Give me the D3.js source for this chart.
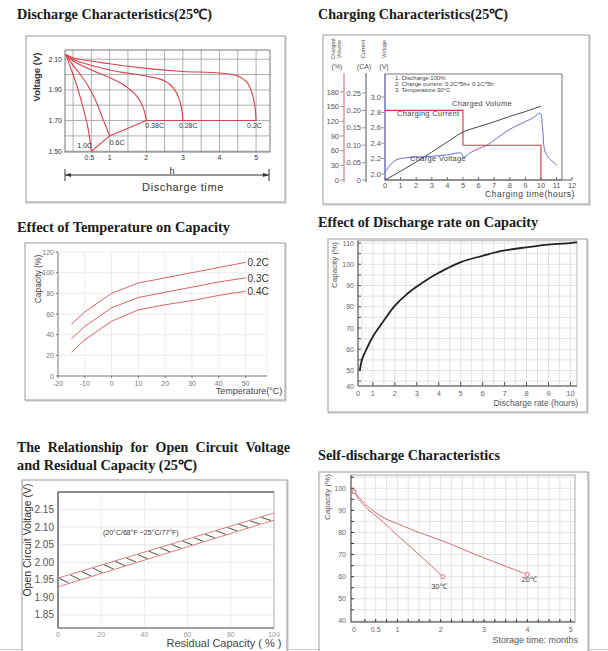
<!DOCTYPE html>
<html><head><meta charset="utf-8">
<script src="https://cdn.jsdelivr.net/npm/d3@7/dist/d3.min.js"></script>
<style>
body{margin:0;background:#fff;}
svg{display:block;}
text{font-family:"Liberation Sans",Arial,sans-serif;}
.title{font-family:"Liberation Serif","Times New Roman",serif;font-weight:bold;font-size:14px;fill:#1a1a1a;}
</style></head><body>
<svg id="c" width="608" height="651"></svg>
<script>
// ---------- DATA ----------
// Panel 1: discharge characteristics (hours, volts)
const dischargeLabels = ["1.0C","0.6C","0.38C","0.28C","0.2C"];
const discharge10C = [[-0.2,2.13],[0,2.0],[0.1,1.93],[0.2,1.85],[0.3,1.76],[0.4,1.66],[0.5,1.5]];
const discharge06C = [[-0.2,2.13],[0,2.06],[0.2,2.0],[0.4,1.93],[0.6,1.84],[0.8,1.72],[1,1.6]];
const discharge038C = [[-0.2,2.13],[0,2.09],[0.5,2.03],[1,1.98],[1.4,1.93],[1.7,1.87],[1.85,1.82],[1.95,1.76],[2,1.7]];
const discharge028C = [[-0.2,2.13],[0,2.1],[1,2.03],[2,1.99],[2.5,1.96],[2.75,1.91],[2.9,1.84],[2.97,1.77],[3,1.7]];
const discharge02C = [[-0.2,2.13],[0,2.11],[1,2.07],[2,2.04],[3,2.02],[4,2.01],[4.5,1.99],[4.75,1.95],[4.9,1.87],[4.97,1.79],[5,1.7]];
const dischargeCutoff = [[0.5,1.5],[1,1.6],[2,1.7],[5,1.7]];
const dischargeYTicks = [1.5,1.7,1.9,2.1];
const dischargeXTicks = [0.5,1,2,3,4,5];

// Panel 2: charging characteristics
const chargeHoursTicks = [0,1,2,3,4,5,6,7,8,9,10,11,12];
const chargeCurrent = [[0,0.2],[5,0.2],[5,0.1],[10,0.1],[10,0]];
const chargedVolume = [[0,0],[1,18],[2,37],[3,57],[4,78],[5,98],[6,109],[7,119],[8,130],[9,140],[10,151]];
const chargeVoltage = [[0,2.02],[0.2,2.08],[0.4,2.13],[0.7,2.18],[1,2.2],[2,2.22],[3,2.23],[4,2.25],[4.9,2.27],[5.05,2.22],[5.5,2.28],[6,2.33],[6.5,2.37],[7,2.44],[8,2.58],[9,2.68],[9.5,2.73],[9.95,2.79],[10.1,2.6],[10.25,2.3],[10.5,2.21],[11,2.12]];
const volTicks = [0,30,60,90,120,150,180];
const curTicks = [0,0.05,0.10,0.15,0.20,0.25];
const voltTicks = [2.0,2.2,2.4,2.6,2.8,3.0];
const chargeNotes = ["1. Discharge:100%","2. Charge current: 0.2C*5h+ 0.1C*5h","3. Temperature:30°C"];

// Panel 3: temperature vs capacity
const tempX = [-15,-10,0,10,20,30,40,50];
const tempCap02 = [50,62,80,90,95,100,105,110];
const tempCap03 = [36,48,66,76,81,86,91,95];
const tempCap04 = [23,35,53,64,69,73,78,82];
const tempSeriesNames = ["0.2C","0.3C","0.4C"];
const tempXTicks = [-20,-10,0,10,20,30,40,50];
const tempYTicks = [0,20,40,60,80,100,120];

// Panel 4: discharge rate vs capacity
const rateHours = [0.4,0.5,0.75,1,1.5,2,2.5,3,3.5,4,5,6,7,8,9,10,10.3];
const rateCap = [50,55,61,66,73.5,80.5,85.5,89.5,93,96,101,104,106.5,108,109.3,110,110.3];
const rateXTicks = [1,2,3,4,5,6,7,8,9,10];
const rateYTicks = [50,60,70,80,90,100,110];

// Panel 5: open circuit voltage vs residual capacity
const ocvCap = [0,100];
const ocvUpper = [1.955,2.14];
const ocvLower = [1.93,2.12];
const ocvYTicks = [1.85,1.90,1.95,2.00,2.05,2.10,2.15];
const ocvXTicks = [0,20,40,60,80,100];

// Panel 6: self-discharge
const self30 = [[0,98.5],[0.15,94],[0.35,90],[0.6,86],[0.93,80],[1.5,70],[2.05,60]];
const self20 = [[0,98.5],[0.25,93],[0.5,89],[0.75,86],[1.06,83.5],[1.5,80],[2,76.5],[3,68.5],[4,61]];
const selfXTicks = [0,0.5,1,2,3,4,5];
const selfYTicks = [40,50,60,70,80,90,100];

// ---------- DRAW ----------
const svg = d3.select("#c");
const RED = "#d9434c";

function frame(x0,y0,x1,y1){
  svg.append("rect").attr("x",x0+1).attr("y",y0+1).attr("width",x1-x0).attr("height",y1-y0)
    .attr("fill","none").attr("stroke","#d8d8d8").attr("stroke-width",1.5);
  svg.append("rect").attr("x",x0).attr("y",y0).attr("width",x1-x0).attr("height",y1-y0)
    .attr("fill","#fff").attr("stroke","#9a9a9a").attr("stroke-width",1);
}
function title(txt,x,y,w){
  svg.append("text").attr("class","title").attr("x",x).attr("y",y)
    .attr("textLength",w).attr("lengthAdjust","spacingAndGlyphs").text(txt);
}
function label(g,txt,x,y,opt){
  opt=opt||{};
  const t=g.append("text").attr("x",x).attr("y",y).text(txt)
    .attr("font-size",opt.size||8).attr("fill",opt.fill||"#444")
    .attr("text-anchor",opt.anchor||"start");
  if(opt.rotate) t.attr("transform",`rotate(-90,${x},${y})`);
  if(opt.ls) t.attr("letter-spacing",opt.ls);
  if(opt.family) t.attr("font-family",opt.family);
  if(opt.weight) t.attr("font-weight",opt.weight);
  return t;
}

// bottom page line
svg.append("line").attr("x1",0).attr("x2",608).attr("y1",649.5).attr("y2",649.5).attr("stroke","#c8c8c8");

// ===== Panel 1 =====
title("Discharge Characteristics(25℃)",17,19,195);
frame(26,36,285,202);
{
  const g=svg.append("g");
  const x=d3.scaleLinear().domain([-0.22,5.38]).range([65,270]);
  const y=d3.scaleLinear().domain([1.495,2.16]).range([152,50]);
  g.selectAll(".vg").data(d3.range(0,5.01,0.5)).join("line")
    .attr("x1",d=>x(d)).attr("x2",d=>x(d)).attr("y1",50).attr("y2",152).attr("stroke","#9c9c9c").attr("stroke-width",0.8);
  g.selectAll(".hg").data(d3.range(1.5,2.11,0.1)).join("line")
    .attr("x1",65).attr("x2",270).attr("y1",d=>y(d)).attr("y2",d=>y(d)).attr("stroke","#9c9c9c").attr("stroke-width",0.8);
  g.append("rect").attr("x",65).attr("y",50).attr("width",205).attr("height",102).attr("fill","none").attr("stroke","#777");
  const lin=d3.line().x(d=>x(d[0])).y(d=>y(d[1]));
  [discharge10C,discharge06C,discharge038C,discharge028C,discharge02C].forEach(s=>{
    g.append("path").attr("d",d3.line().x(d=>x(d[0])).y(d=>y(d[1])).curve(d3.curveCatmullRom)(s))
      .attr("fill","none").attr("stroke",RED).attr("stroke-width",1.1);
  });
  g.append("path").attr("d",lin(dischargeCutoff)).attr("fill","none").attr("stroke",RED).attr("stroke-width",1.1);
  dischargeYTicks.forEach(v=>label(g,v.toFixed(2),62,y(v)+2.5,{size:7,anchor:"end",fill:"#333"}));
  dischargeXTicks.forEach(v=>label(g,String(v),x(v)-(v===0.5?2:0),160,{size:7,anchor:"middle",fill:"#333"}));
  const ends=[discharge10C,discharge06C,discharge038C,discharge028C,discharge02C].map(s=>s[s.length-1]);
  const offs=[[-14,-3],[0,9],[-1,7.5],[-4,7.5],[-9,7.5]];
  ends.forEach((e,i)=>label(g,dischargeLabels[i],x(e[0])+offs[i][0],y(e[1])+offs[i][1],{size:7,fill:"#333"}));
  // arrow
  const ay=175;
  g.append("line").attr("x1",65).attr("x2",269).attr("y1",ay).attr("y2",ay).attr("stroke","#333");
  g.append("line").attr("x1",65).attr("x2",65).attr("y1",ay-6).attr("y2",ay+6).attr("stroke","#333");
  g.append("line").attr("x1",269).attr("x2",269).attr("y1",ay-6).attr("y2",ay+6).attr("stroke","#333");
  g.append("path").attr("d",`M65,${ay}l6,-2v4z M269,${ay}l-6,-2v4z`).attr("fill","#333");
  label(g,"h",172,ay-1,{size:9,anchor:"middle",fill:"#333"});
  label(g,"Discharge time",183,191,{size:11,anchor:"middle",fill:"#333",ls:0.6});
  label(g,"Voltage (V)",40,77,{size:9.5,anchor:"middle",fill:"#333",rotate:true,weight:"bold"});
}

// ===== Panel 2 =====
title("Charging Characteristics(25℃)",318,19,190);
frame(323,35,589,204);
{
  const g=svg.append("g");
  const x=d3.scaleLinear().domain([0,11.35]).range([385,562]);
  const yVol=d3.scaleLinear().domain([0,180]).range([180,92]);
  const yCur=d3.scaleLinear().domain([0,0.25]).range([180,93]);
  const yV=d3.scaleLinear().domain([2.0,3.0]).range([174,97]);
  g.append("rect").attr("x",385).attr("y",74).attr("width",177).attr("height",106).attr("fill","none").attr("stroke","#777");
  g.append("line").attr("x1",385).attr("x2",x(12)).attr("y1",180).attr("y2",180).attr("stroke","#666");
  chargeHoursTicks.forEach(h=>{
    g.append("line").attr("x1",x(h)).attr("x2",x(h)).attr("y1",180).attr("y2",177).attr("stroke","#666");
    label(g,String(h),x(h),188,{size:7.5,anchor:"middle",fill:"#555"});
  });
  // axes
  g.append("line").attr("x1",344).attr("x2",344).attr("y1",73).attr("y2",182).attr("stroke","#d77f86").attr("stroke-width",1.2);
  g.append("line").attr("x1",366).attr("x2",366).attr("y1",73).attr("y2",182).attr("stroke","#555").attr("stroke-width",1);
  g.append("line").attr("x1",385).attr("x2",385).attr("y1",74).attr("y2",180).attr("stroke","#7b7be0").attr("stroke-width",1.2);
  volTicks.forEach(v=>{
    g.append("line").attr("x1",340).attr("x2",344).attr("y1",yVol(v)).attr("y2",yVol(v)).attr("stroke","#999");
    label(g,String(v),339,yVol(v)+2.5,{size:7.5,anchor:"end",fill:"#555"});
  });
  curTicks.forEach(v=>{
    g.append("line").attr("x1",362).attr("x2",366).attr("y1",yCur(v)).attr("y2",yCur(v)).attr("stroke","#999");
    label(g,v===0?"0":v.toFixed(2),361,yCur(v)+2.5,{size:7.5,anchor:"end",fill:"#555"});
  });
  voltTicks.forEach(v=>{
    g.append("line").attr("x1",381).attr("x2",385).attr("y1",yV(v)).attr("y2",yV(v)).attr("stroke","#999");
    label(g,v.toFixed(1),381,yV(v)+2.5,{size:7.5,anchor:"end",fill:"#555"});
  });
  label(g,"Charged",335,49,{size:5.5,anchor:"middle",fill:"#555",rotate:true});
  label(g,"Volume",341,49,{size:5.5,anchor:"middle",fill:"#555",rotate:true});
  label(g,"Current",365,49,{size:5.5,anchor:"middle",fill:"#555",rotate:true});
  label(g,"Voltage",386,49,{size:5.5,anchor:"middle",fill:"#555",rotate:true});
  label(g,"(%)",337,69,{size:7,anchor:"middle",fill:"#555"});
  label(g,"(CA)",364,69,{size:7,anchor:"middle",fill:"#555"});
  label(g,"(V)",384,69,{size:7,anchor:"middle",fill:"#555"});
  // series
  g.append("path").attr("d",d3.line().x(d=>x(d[0])).y(d=>yCur(d[1]))(chargeCurrent))
    .attr("fill","none").attr("stroke","#cf3a44").attr("stroke-width",1.1);
  g.append("path").attr("d",d3.line().x(d=>x(d[0])).y(d=>yVol(d[1])).curve(d3.curveMonotoneX)(chargedVolume))
    .attr("fill","none").attr("stroke","#333").attr("stroke-width",0.9);
  g.append("path").attr("d",d3.line().x(d=>x(d[0])).y(d=>yV(d[1])).curve(d3.curveCatmullRom)(chargeVoltage))
    .attr("fill","none").attr("stroke","#6a6ad8").attr("stroke-width",1);
  chargeNotes.forEach((t,i)=>label(g,t,395,80+i*6,{size:6,fill:"#444"}));
  label(g,"Charging Current",397,115.5,{size:7.5,fill:"#444",ls:0.3});
  label(g,"Charged Volume",482,105.5,{size:7.5,anchor:"middle",fill:"#444",ls:0.3});
  label(g,"Charge Voltage",438,160.5,{size:7.5,anchor:"middle",fill:"#444",ls:0.3});
  label(g,"Charging time(hours)",530,197,{size:8.5,anchor:"middle",fill:"#444",ls:0.5});
}

// ===== Panel 3 =====
title("Effect of Temperature on Capacity",17,232,213);
frame(25,243,285,400);
{
  const g=svg.append("g");
  const x=d3.scaleLinear().domain([-20,58]).range([58,267]);
  const y=d3.scaleLinear().domain([0,120]).range([376,252]);
  g.selectAll(".vg").data(tempXTicks.slice(1).concat([58])).join("line")
    .attr("x1",d=>x(d)).attr("x2",d=>x(d)).attr("y1",252).attr("y2",376).attr("stroke","#ececec");
  g.selectAll(".hg").data(tempYTicks.slice(1)).join("line")
    .attr("x1",58).attr("x2",267).attr("y1",d=>y(d)).attr("y2",d=>y(d)).attr("stroke","#ececec");
  g.append("line").attr("x1",58).attr("x2",58).attr("y1",252).attr("y2",376).attr("stroke","#777");
  g.append("line").attr("x1",58).attr("x2",267).attr("y1",376).attr("y2",376).attr("stroke","#777");
  tempYTicks.forEach(v=>{
    g.append("line").attr("x1",56).attr("x2",58).attr("y1",y(v)).attr("y2",y(v)).attr("stroke","#777");
    label(g,String(v),54,y(v)+2.5,{size:7,anchor:"end",fill:"#777"});
  });
  tempXTicks.forEach(v=>{
    g.append("line").attr("x1",x(v)).attr("x2",x(v)).attr("y1",376).attr("y2",378).attr("stroke","#777");
    label(g,String(v),x(v),386,{size:7,anchor:"middle",fill:"#777"});
  });
  const series=[tempCap02,tempCap03,tempCap04];
  series.forEach((s,i)=>{
    const pts=tempX.map((t,j)=>[t,s[j]]);
    g.append("path").attr("d",d3.line().x(d=>x(d[0])).y(d=>y(d[1]))(pts))
      .attr("fill","none").attr("stroke","#d4505a").attr("stroke-width",0.9);
    label(g,tempSeriesNames[i],x(50)+2,y(s[s.length-1])+4,{size:10,fill:"#333"});
  });
  label(g,"Capacity (%)",41,279,{size:8.5,anchor:"middle",fill:"#444",rotate:true});
  label(g,"Temperature(°C)",249,394,{size:9,anchor:"middle",fill:"#444"});
}

// ===== Panel 4 =====
title("Effect of Discharge rate on Capacity",318,227,220);
frame(328,239,587,412);
{
  const g=svg.append("g");
  const x=d3.scaleLinear().domain([0.32,10.3]).range([358,577]);
  const y=d3.scaleLinear().domain([42.7,111.1]).range([386,240.7]);
  g.selectAll(".vg").data(d3.range(0.5,10.31,0.5)).join("line")
    .attr("x1",d=>x(d)).attr("x2",d=>x(d)).attr("y1",240.7).attr("y2",386).attr("stroke","#e2e2e2");
  g.selectAll(".hg").data(d3.range(45,111,5)).join("line")
    .attr("x1",358).attr("x2",577).attr("y1",d=>y(d)).attr("y2",d=>y(d)).attr("stroke","#e2e2e2");
  g.append("rect").attr("x",358).attr("y",240.7).attr("width",219).attr("height",145.3).attr("fill","none").attr("stroke","#bbb");
  g.append("line").attr("x1",358).attr("x2",358).attr("y1",240.7).attr("y2",386).attr("stroke","#555");
  g.append("line").attr("x1",358).attr("x2",577).attr("y1",386).attr("y2",386).attr("stroke","#555");
  d3.range(45,111,5).forEach(v=>g.append("line").attr("x1",358).attr("x2",361).attr("y1",y(v)).attr("y2",y(v)).attr("stroke","#555"));
  rateYTicks.forEach(v=>label(g,String(v),354,y(v)+2.5,{size:7,anchor:"end",fill:"#666"}));
  label(g,"40",354,y(42.7)+2.5,{size:7,anchor:"end",fill:"#666"});
  rateXTicks.forEach(v=>{
    g.append("line").attr("x1",x(v)).attr("x2",x(v)).attr("y1",386).attr("y2",382).attr("stroke","#555");
    label(g,String(v),x(v),396,{size:7.5,anchor:"middle",fill:"#666"});
  });
  label(g,"0",358,396,{size:7.5,anchor:"middle",fill:"#666"});
  const pts=rateHours.map((h,i)=>[h,rateCap[i]]);
  g.append("path").attr("d",d3.line().x(d=>x(d[0])).y(d=>y(d[1])).curve(d3.curveCatmullRom.alpha(0.5))(pts))
    .attr("fill","none").attr("stroke","#222").attr("stroke-width",1.8).attr("stroke-linejoin","round");
  label(g,"Capacity (%)",337,265,{size:8,anchor:"middle",fill:"#555",rotate:true});
  label(g,"Discharge rate  (hours)",578,406,{size:8.5,anchor:"end",fill:"#555"});
}

// ===== Panel 5 =====
{
  const words1=["The","Relationship","for","Open","Circuit","Voltage"];
  const g0=svg.append("g");
  const ws=words1.map(w=>g0.append("text").attr("class","title").attr("y",452).text(w));
  const widths=ws.map(t=>t.node().getComputedTextLength());
  const total=d3.sum(widths);
  const gap=(290-17-total)/(words1.length-1);
  let cx=17;
  ws.forEach((t,i)=>{t.attr("x",cx);cx+=widths[i]+gap;});
  title("and Residual Capacity (25℃)",17,470,180);
}
frame(22,480,287,670);
{
  const g=svg.append("g");
  const x=d3.scaleLinear().domain([0,100]).range([58,274]);
  const y=d3.scaleLinear().domain([1.813,2.2]).range([628,492]);
  g.selectAll(".vg").data(ocvXTicks.slice(1,-1)).join("line")
    .attr("x1",d=>x(d)).attr("x2",d=>x(d)).attr("y1",492).attr("y2",628).attr("stroke","#ececec");
  g.selectAll(".hg").data(ocvYTicks).join("line")
    .attr("x1",58).attr("x2",274).attr("y1",d=>y(d)).attr("y2",d=>y(d)).attr("stroke","#e6e6e6");
  g.append("rect").attr("x",58).attr("y",492).attr("width",216).attr("height",136).attr("fill","none").attr("stroke","#aaa");
  g.append("line").attr("x1",58).attr("x2",274).attr("y1",492).attr("y2",492).attr("stroke","#444");
  g.append("line").attr("x1",58).attr("x2",58).attr("y1",492).attr("y2",628).attr("stroke","#444");
  g.append("line").attr("x1",58).attr("x2",274).attr("y1",628).attr("y2",628).attr("stroke","#666");
  ocvYTicks.forEach(v=>label(g,v.toFixed(2),54,y(v)+3.5,{size:10,anchor:"end",fill:"#555"}));
  ocvXTicks.forEach(v=>label(g,String(v),x(v),637,{size:7,anchor:"middle",fill:"#999"}));
  const up=d3.scaleLinear().domain(ocvCap).range(ocvUpper);
  const lo=d3.scaleLinear().domain(ocvCap).range(ocvLower);
  d3.range(0.5,95,5.2).forEach(c=>{
    g.append("line").attr("x1",x(c)).attr("y1",y(up(c))+0.5).attr("x2",x(c+4.5)).attr("y2",y(lo(c+4.5))-0.5)
      .attr("stroke","#222").attr("stroke-width",0.8);
  });
  const pu=ocvCap.map((c,i)=>[c,ocvUpper[i]]), pl=ocvCap.map((c,i)=>[c,ocvLower[i]]);
  [pu,pl].forEach(p=>g.append("path").attr("d",d3.line().x(d=>x(d[0])).y(d=>y(d[1]))(p))
    .attr("fill","none").attr("stroke","#e07a84").attr("stroke-width",1));
  label(g,"(20°C/68°F ~25°C/77°F)",103,535,{size:7,fill:"#333",family:"Liberation Serif, serif"});
  label(g,"Open Circuit Voltage (V)",31,540,{size:10.5,anchor:"middle",fill:"#333",rotate:true});
  label(g,"Residual Capacity ( % )",224,647,{size:11,anchor:"middle",fill:"#444"});
}

// ===== Panel 6 =====
title("Self-discharge Characteristics",318,460,182);
frame(319,472,588,670);
{
  const g=svg.append("g");
  const x=d3.scaleLinear().domain([-0.07,5.1]).range([351,575]);
  const y=d3.scaleLinear().domain([39.5,106]).range([622,475]);
  g.selectAll(".vg").data(d3.range(0.25,5.1,0.25)).join("line")
    .attr("x1",d=>x(d)).attr("x2",d=>x(d)).attr("y1",475).attr("y2",622).attr("stroke","#e4e4e4");
  g.selectAll(".hg").data(d3.range(40,106,5)).join("line")
    .attr("x1",351).attr("x2",575).attr("y1",d=>y(d)).attr("y2",d=>y(d)).attr("stroke","#e4e4e4");
  g.append("rect").attr("x",351).attr("y",475).attr("width",224).attr("height",147).attr("fill","none").attr("stroke","#aaa");
  g.append("line").attr("x1",351).attr("x2",351).attr("y1",475).attr("y2",622).attr("stroke","#555");
  g.append("line").attr("x1",351).attr("x2",575).attr("y1",622).attr("y2",622).attr("stroke","#555");
  d3.range(45,106,5).forEach(v=>g.append("line").attr("x1",351).attr("x2",354).attr("y1",y(v)).attr("y2",y(v)).attr("stroke","#333"));
  d3.range(0.25,5.1,0.25).forEach(v=>g.append("line").attr("x1",x(v)).attr("x2",x(v)).attr("y1",622).attr("y2",619).attr("stroke","#333"));
  selfYTicks.forEach(v=>label(g,String(v),346,y(v)+2.5,{size:7,anchor:"end",fill:"#666"}));
  selfXTicks.forEach(v=>label(g,String(v),x(v),632,{size:7,anchor:"middle",fill:"#666"}));
  [self30,self20].forEach(s=>{
    g.append("path").attr("d",d3.line().x(d=>x(d[0])).y(d=>y(d[1])).curve(d3.curveCatmullRom)(s))
      .attr("fill","none").attr("stroke","#d46a74").attr("stroke-width",1);
    [s[0],s[s.length-1]].forEach(p=>g.append("circle").attr("cx",x(p[0])).attr("cy",y(p[1])).attr("r",2)
      .attr("fill","#fff").attr("stroke","#d46a74"));
  });
  const e30=self30[self30.length-1], e20=self20[self20.length-1];
  label(g,"30℃",x(e30[0])-4,y(e30[1])+12,{size:7.5,anchor:"middle",fill:"#444",family:"Liberation Serif, serif"});
  label(g,"20℃",x(e20[0])+2,y(e20[1])+8,{size:7.5,anchor:"middle",fill:"#444",family:"Liberation Serif, serif"});
  label(g,"Capacity (%)",330,497,{size:8,anchor:"middle",fill:"#555",rotate:true});
  label(g,"Storage time: months",578,643,{size:9,anchor:"end",fill:"#555"});
}
</script>
</body></html>
